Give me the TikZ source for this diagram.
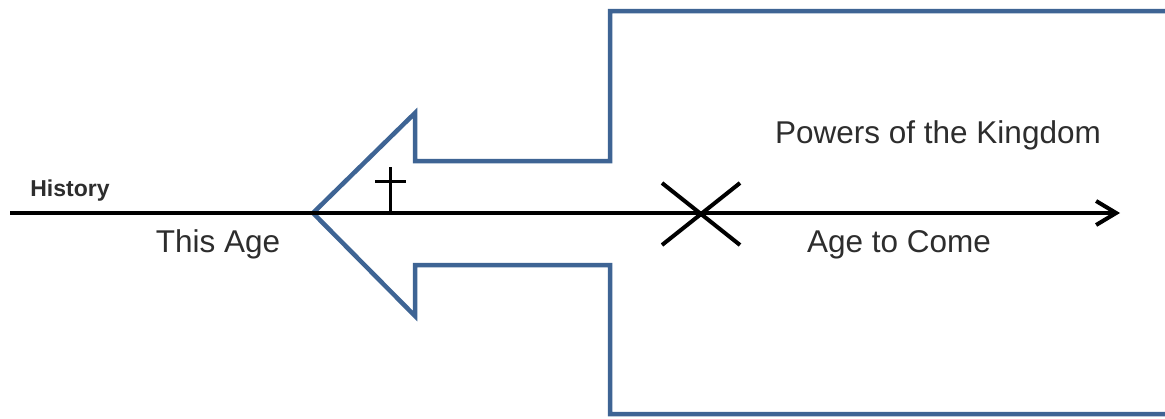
\documentclass[tikz,border=0pt]{standalone}
\usepackage{fontspec}
\setmainfont{Liberation Sans}
\usetikzlibrary{arrows.meta}
\definecolor{shapeblue}{RGB}{62,100,148}
\definecolor{txtgray}{RGB}{45,45,45}
\tikzset{
  blueshape/.style={draw=shapeblue, line width=4.5pt, line join=miter},
  axisline/.style={draw=black, line width=4pt, -{Straight Barb[length=20pt,width=24pt]}},
  markline/.style={draw=black, line width=3pt},
  xline/.style={draw=black, line width=4pt},
  lbl/.style={inner sep=0pt, text=txtgray, font=\fontsize{31.5}{34}\selectfont},
  smalllbl/.style={inner sep=0pt, text=txtgray, font=\bfseries\fontsize{23}{26}\selectfont}
}
\begin{document}
\begin{tikzpicture}[x=1pt,y=-1pt]
\clip (0,0) rectangle (1165,418);
\fill[white] (0,0) rectangle (1165,418);
% big arrow / kingdom shape
\draw[blueshape] (1180,11) -- (610,11) -- (610,161) -- (415,161) -- (415,113)
  -- (313,213) -- (415,316) -- (415,265) -- (610,265) -- (610,414) -- (1180,414);
% history axis
\coordinate (axstart) at (10,213);
\coordinate (axend) at (1120,213);
\draw[axisline] (axstart) -- (axend);
% cross
\coordinate (crossfoot) at (390,213);
\coordinate (crosstop) at (390,167);
\coordinate (barl) at (375,181);
\coordinate (barr) at (406,181);
\draw[markline] (crossfoot) -- (crosstop);
\draw[markline] (barl) -- (barr);
% X mark
\coordinate (xa) at (662,183);
\coordinate (xb) at (740,245);
\coordinate (xc) at (662,245);
\coordinate (xd) at (740,183);
\draw[xline] (xa) -- (xb);
\draw[xline] (xc) -- (xd);
% labels
\node[smalllbl, anchor=base] (history) at (70,196) {History};
\node[lbl, anchor=base] (thisage) at (218,252) {This Age};
\node[lbl, anchor=base] (agetocome) at (899,252) {Age to Come};
\node[lbl, anchor=base] (powers) at (938,143) {Powers of the Kingdom};
\end{tikzpicture}
\end{document}
